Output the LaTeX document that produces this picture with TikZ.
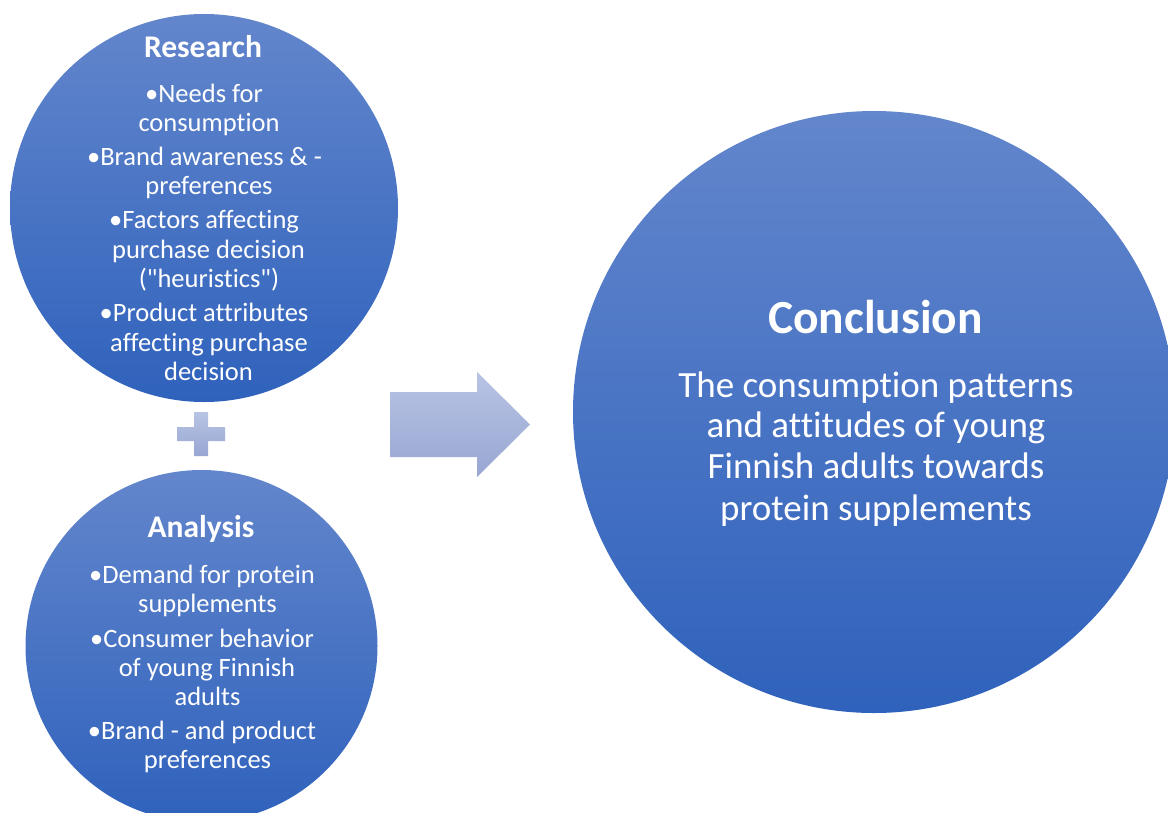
\documentclass[tikz,border=0pt]{standalone}
\usepackage{fontspec}
\setmainfont{Carlito}[Ligatures={TeXOff,CommonOff,ContextualOff}]
\definecolor{circtop}{RGB}{99,134,204}
\definecolor{circbot}{RGB}{47,98,188}
\definecolor{arrtop}{RGB}{184,196,228}
\definecolor{arrbot}{RGB}{152,166,210}
\tikzset{
  bigcirc/.style={circle, inner sep=0pt, draw=none, top color=circtop, bottom color=circbot},
  lightshape/.style={draw=none, top color=arrtop, bottom color=arrbot},
  ln/.style={anchor=base, inner sep=0pt, text=white},
  smalltitle/.style={ln, font=\fontsize{31.5}{36}\selectfont\bfseries},
  smallbody/.style={ln, font=\fontsize{26.5}{30}\selectfont},
  bigtitle/.style={ln, font=\fontsize{47.5}{54}\selectfont\bfseries},
  bigbody/.style={ln, font=\fontsize{37}{42}\selectfont}
}
\begin{document}
\begin{tikzpicture}[x=1pt,y=-1pt]
\clip (0,0) rectangle (1168,812);
\fill[white] (0,0) rectangle (1168,812);
% circles
\node[bigcirc, minimum size=388pt] (research) at (204,208) {};
\node[bigcirc, minimum size=352pt] (analysis) at (201.5,646) {};
\node[bigcirc, minimum size=602pt] (conclusion) at (874,412) {};
% plus sign
\path[lightshape] (194,412) -- (208,412) -- (208,427) -- (225,427) -- (225,441) -- (208,441)
  -- (208,456) -- (194,456) -- (194,441) -- (177,441) -- (177,427) -- (194,427) -- cycle;
% arrow
\path[lightshape] (390,392) -- (477,392) -- (477,372) -- (530,424.5) -- (477,477) -- (477,457)
  -- (390,457) -- cycle;
% Research text
\node[smalltitle] (rtitle) at (203,57) {Research};
\foreach \t/\x/\y [count=\i] in {
  {•Needs for}/204/102,
  {consumption}/209/131,
  {•Brand awareness \& -}/204.5/165,
  {preferences}/209/194,
  {•Factors affecting}/204/228,
  {purchase decision}/208.5/258,
  {("heuristics")}/209/287,
  {•Product attributes}/204/321,
  {affecting purchase}/209/351,
  {decision}/208.5/380}
{\node[smallbody] (r\i) at (\x,\y) {\t};}
% Analysis text
\node[smalltitle] (atitle) at (201,537) {Analysis};
\foreach \t/\x/\y [count=\i] in {
  {•Demand for protein}/202/583,
  {supplements}/207.5/612,
  {•Consumer behavior}/202/647,
  {of young Finnish}/207/676,
  {adults}/207.5/705,
  {•Brand - and product}/202/739,
  {preferences}/207.5/768}
{\node[smallbody] (a\i) at (\x,\y) {\t};}
% Conclusion text
\node[bigtitle] (ctitle) at (875.5,333) {Conclusion};
\foreach \t/\y [count=\i] in {
  {The consumption patterns}/397,
  {and attitudes of young}/437,
  {Finnish adults towards}/478,
  {protein supplements}/520}
{\node[bigbody] (c\i) at (876,\y) {\t};}
\end{tikzpicture}
\end{document}
